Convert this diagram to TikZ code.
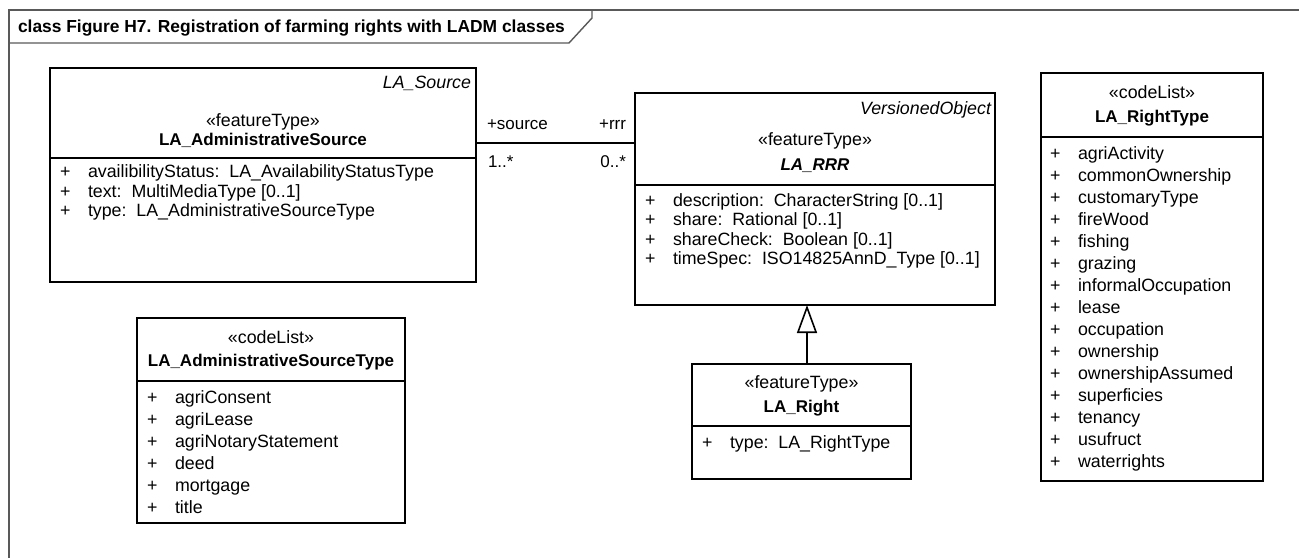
\documentclass[tikz,border=0pt]{standalone}
\usepackage{fontspec}
\setmainfont{Liberation Sans}
\usetikzlibrary{arrows.meta}
\newcommand{\umlpub}{\makebox[28pt][l]{+}}

\begin{document}
\begin{tikzpicture}[
  x=1pt,y=-1pt,
  every node/.style={inner sep=0pt,outer sep=0pt},
  umlbox/.style={draw=black,line width=1.6pt,rectangle,anchor=north west},
  sepline/.style={line width=1.6pt},
  stereo/.style={anchor=base,font=\fontsize{17.8}{19.6}\selectfont},
  cname/.style={anchor=base,font=\bfseries\fontsize{17}{19.6}\selectfont},
  parent/.style={anchor=base east,font=\itshape\fontsize{17.8}{19.6}\selectfont},
  attrs/.style={anchor=north west,align=left,font=\fontsize{17.8}{19.4}\selectfont},
  codes/.style={anchor=north west,align=left,font=\fontsize{17.8}{22}\selectfont},
  role/.style={font=\fontsize{17}{19.6}\selectfont},
  assoc/.style={line width=1.6pt},
  gen/.style={line width=1.6pt,-{Triangle[open,fill=white,length=28pt,width=20pt]}},
  frm/.style={draw=black!65,line width=1.4pt},
]
\useasboundingbox (0,0) rectangle (1299,558);

% diagram frame with its name tab
\draw[frm] (1299,10) -- (9,10) -- (9,558);
\draw[frm] (9,43) -- (569,43) -- (592,18) -- (592,10);
\node[anchor=base west,font=\bfseries\fontsize{17.4}{20}\selectfont] (title) at (18,32)
  {class Figure H7. Registration of farming rights with LADM classes};

% LA_AdministrativeSource
\node[umlbox,minimum width=426pt,minimum height=214pt] (src) at (50,68) {};
\draw[sepline] (src.west |- 0,158) -- (src.east |- 0,158);
\node[parent] (srcpar) at (471,88) {LA\_Source};
\node[stereo] (srcst) at (263,126) {«featureType»};
\node[cname] (srcname) at (263,145) {LA\_AdministrativeSource};
\node[attrs] (srcattr) at (60,164.4)
  {\strut\umlpub availibilityStatus:~~LA\_AvailabilityStatusType\\
   \strut\umlpub text:~~MultiMediaType [0..1]\\
   \strut\umlpub type:~~LA\_AdministrativeSourceType};

% LA_AdministrativeSourceType
\node[umlbox,minimum width=268pt,minimum height=205pt] (srctype) at (137,318) {};
\draw[sepline] (srctype.west |- 0,381) -- (srctype.east |- 0,381);
\node[stereo] (srctypest) at (271,343) {«codeList»};
\node[cname] (srctypename) at (271,366) {LA\_AdministrativeSourceType};
\node[codes] (srctypeval) at (147,387.6)
  {\strut\umlpub agriConsent\\
   \strut\umlpub agriLease\\
   \strut\umlpub agriNotaryStatement\\
   \strut\umlpub deed\\
   \strut\umlpub mortgage\\
   \strut\umlpub title};

% LA_RRR
\node[umlbox,minimum width=360pt,minimum height=212pt] (rrr) at (635,93) {};
\draw[sepline] (rrr.west |- 0,185) -- (rrr.east |- 0,185);
\node[parent] (rrrpar) at (991,114) {VersionedObject};
\node[stereo] (rrrst) at (815,145) {«featureType»};
\node[cname,font=\bfseries\itshape\fontsize{17}{19.6}\selectfont] (rrrname) at (815,170) {LA\_RRR};
\node[attrs] (rrrattr) at (645,193)
  {\strut\umlpub description:~~CharacterString [0..1]\\
   \strut\umlpub share:~~Rational [0..1]\\
   \strut\umlpub shareCheck:~~Boolean [0..1]\\
   \strut\umlpub timeSpec:~~ISO14825AnnD\_Type [0..1]};

% LA_Right
\node[umlbox,minimum width=219pt,minimum height=115pt] (rgt) at (692,364) {};
\draw[sepline] (rgt.west |- 0,426) -- (rgt.east |- 0,426);
\node[stereo] (rgtst) at (801.5,388) {«featureType»};
\node[cname] (rgtname) at (801.5,412) {LA\_Right};
\node[attrs] (rgtattr) at (702,435.4) {\strut\umlpub type:~~LA\_RightType};

% LA_RightType
\node[umlbox,minimum width=222pt,minimum height=408pt] (rgttype) at (1041,73) {};
\draw[sepline] (rgttype.west |- 0,137) -- (rgttype.east |- 0,137);
\node[stereo] (rgttypest) at (1152,98) {«codeList»};
\node[cname] (rgttypename) at (1152,122) {LA\_RightType};
\node[codes] (rgttypeval) at (1050,143.6)
  {\strut\umlpub agriActivity\\
   \strut\umlpub commonOwnership\\
   \strut\umlpub customaryType\\
   \strut\umlpub fireWood\\
   \strut\umlpub fishing\\
   \strut\umlpub grazing\\
   \strut\umlpub informalOccupation\\
   \strut\umlpub lease\\
   \strut\umlpub occupation\\
   \strut\umlpub ownership\\
   \strut\umlpub ownershipAssumed\\
   \strut\umlpub superficies\\
   \strut\umlpub tenancy\\
   \strut\umlpub usufruct\\
   \strut\umlpub waterrights};

% association source -- rrr
\coordinate (asc) at (0,143);
\draw[assoc] (src.east |- asc) -- (rrr.west |- asc);
\node[role,anchor=base west] (srcrole) at (487,129) {+source};
\node[role,anchor=base east] (rrrrole) at (626,129) {+rrr};
\node[role,anchor=base west] (srcmult) at (488,167) {1..*};
\node[role,anchor=base east] (rrrmult) at (626,167) {0..*};

% generalization LA_Right -> LA_RRR
\coordinate (genx) at (807,0);
\draw[gen] (rgt.north -| genx) -- (rrr.south -| genx);
\end{tikzpicture}
\end{document}
